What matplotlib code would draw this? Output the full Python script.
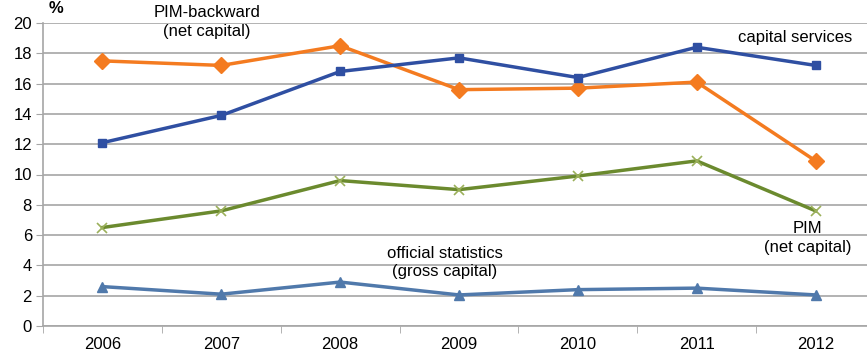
import numpy as np
import matplotlib
matplotlib.use("Agg")
import matplotlib.pyplot as plt

plt.rcParams['font.family'] = ['Liberation Sans', 'DejaVu Sans']

years = ['2006', '2007', '2008', '2009', '2010', '2011', '2012']
capital_services = [12.1, 13.9, 16.8, 17.7, 16.4, 18.4, 17.2]
pim_backward = [17.5, 17.2, 18.5, 15.6, 15.7, 16.1, 10.9]
pim_net = [6.5, 7.6, 9.6, 9.0, 9.9, 10.9, 7.6]
official = [2.6, 2.1, 2.9, 2.05, 2.4, 2.5, 2.05]

fig = plt.figure(figsize=(8.67, 3.56), dpi=100)
# axes runs past the right edge of the figure, like the cropped original
ax = fig.add_axes([43/867, 30/356, 832/867, 303/356])
x = np.arange(len(years))

ax.plot(x, official, color='#5079AB', lw=2.5, marker='^', ms=7, zorder=3)
ax.plot(x, pim_net, color='#6B8A2E', lw=2.5, marker='x', ms=7, mew=1.2,
        mec='#9BB05A', zorder=3)
ax.plot(x, pim_backward, color='#F47B20', lw=2.5, marker='D', ms=8, zorder=3)
ax.plot(x, capital_services, color='#2F4FA2', lw=2.5, marker='s', ms=6, zorder=3)

ax.set_xlim(-0.5, 6.5)
ax.set_ylim(0, 20)
ax.set_yticks(np.arange(0, 21, 2))
ax.yaxis.grid(True, color='#A6A6A6', lw=1.2)
ax.set_axisbelow(True)
ax.set_xticks(x)
ax.set_xticklabels(years)
ax.set_xticks(np.arange(-0.5, 7, 1), minor=True)
ax.tick_params(axis='x', which='major', length=0, pad=8, labelsize=12)
ax.tick_params(axis='x', which='minor', length=5, color='#A6A6A6', direction='out')
ax.tick_params(axis='y', length=5, color='#A6A6A6', labelsize=12, pad=3)
for s in ['top', 'right']:
    ax.spines[s].set_visible(False)
for s in ['left', 'bottom']:
    ax.spines[s].set_color('#A6A6A6')
    ax.spines[s].set_linewidth(1.2)

ax.text(-0.45, 20.45, '%', fontsize=12, fontweight='bold', ha='left', va='bottom')
ax.text(0.88, 20.07, 'PIM-backward\n(net capital)', fontsize=12, ha='center',
        va='center', linespacing=1.3)
ax.text(5.83, 19.07, 'capital services', fontsize=12, ha='center', va='center')
ax.text(2.88, 4.19, 'official statistics\n(gross capital)', fontsize=12,
        ha='center', va='center', linespacing=1.3)
ax.text(5.93, 5.8, 'PIM\n(net capital)', fontsize=12, ha='center',
        va='center', linespacing=1.3)

fig.savefig('out.png', dpi=100)
